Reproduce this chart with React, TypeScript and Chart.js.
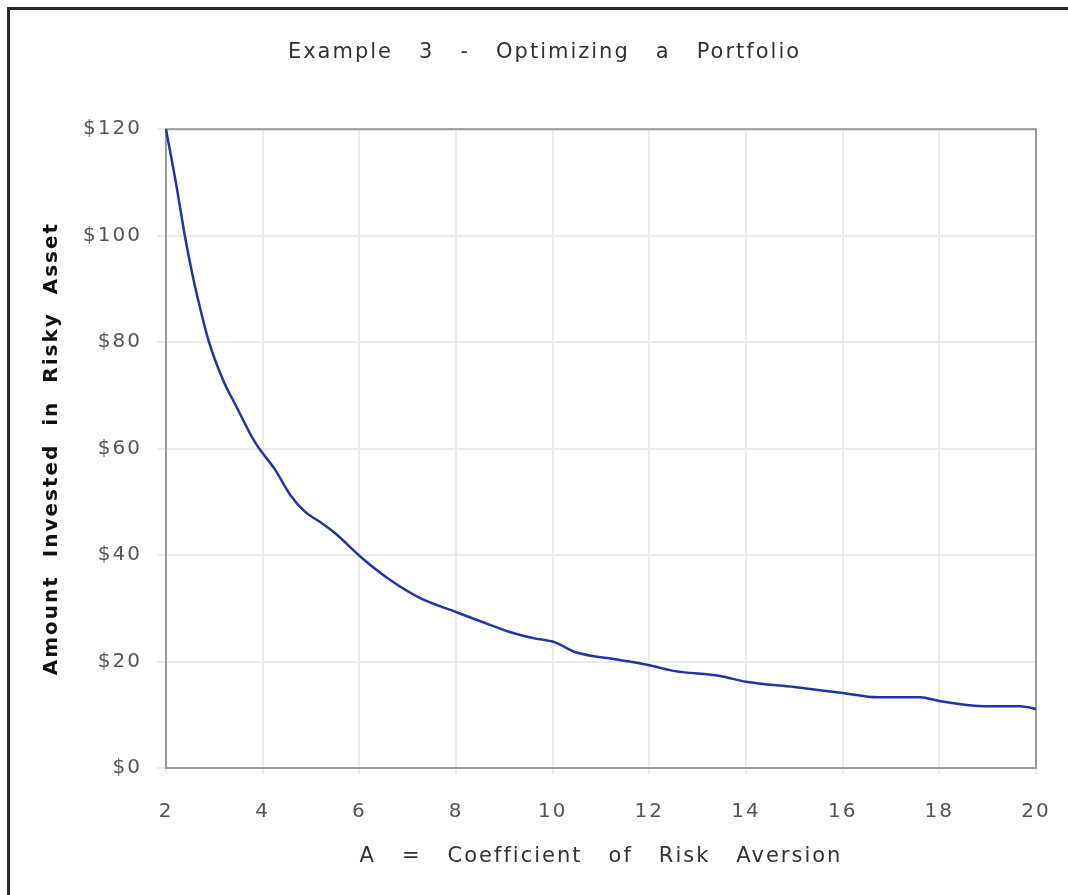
import React, { useEffect, useRef } from "react";
import { Chart, registerables } from "chart.js";

Chart.register(...registerables);

// Coefficient of risk aversion (A) and the dollar amount invested in the risky asset
const riskAversion = [
  2.0, 2.2, 2.39, 2.54, 2.7, 2.89, 3.18, 3.45, 3.84, 4.26, 4.57, 4.88, 5.19, 5.5,
  6.06, 6.64, 7.26, 8.0, 8.7, 9.2, 9.6, 10.05, 10.46, 11.39, 12.0, 12.53, 13.46, 14.0, 15.0,
  16.0, 16.73, 17.6, 18.0, 18.95, 19.67, 20.0,
];
const amountInvested = [
  120, 110.2, 100, 93, 86.6, 80, 72.9, 68, 61.2, 56, 51.3, 48.1, 46.2, 44.1,
  39.4, 35.3, 31.9, 29.3, 26.9, 25.3, 24.4, 23.6, 21.8, 20.3, 19.3, 18.2, 17.3, 16.2, 15.2,
  14.1, 13.3, 13.3, 12.6, 11.6, 11.6, 11.1,
];

const xTickValues = [2, 4, 6, 8, 10, 12, 14, 16, 18, 20];
const yTickValues = [0, 20, 40, 60, 80, 100, 120];

const chartTitle = "Example   3   -   Optimizing   a   Portfolio";
const xAxisTitle = "A   =   Coefficient   of   Risk   Aversion";
const yAxisTitle = "Amount  Invested  in  Risky  Asset";

const FONT = "'DejaVu Sans', Verdana, sans-serif";

export default function App() {
  const canvasRef = useRef<HTMLCanvasElement>(null);

  useEffect(() => {
    const canvas = canvasRef.current;
    if (!canvas) return;

    const spacingPlugin = {
      id: "spacing",
      beforeLayout(chart: any) {
        chart.ctx.letterSpacing = "2px";
      },
      afterLayout(chart: any) {
        if (chart.titleBlock) chart.titleBlock.left = 53;
      },
      beforeDraw(chart: any) {
        chart.ctx.letterSpacing = "2px";
      },
    };

    const framePlugin = {
      id: "plotFrame",
      beforeDatasetsDraw(chart: any) {
        const { ctx, chartArea } = chart;
        ctx.save();
        ctx.strokeStyle = "#999999";
        ctx.lineWidth = 2;
        ctx.strokeRect(
          chartArea.left,
          chartArea.top,
          chartArea.right - chartArea.left,
          chartArea.bottom - chartArea.top
        );
        ctx.restore();
      },
    };

    const chart = new Chart(canvas, {
      type: "line",
      data: {
        datasets: [
          {
            data: riskAversion.map((a, i) => ({ x: a, y: amountInvested[i] })),
            borderColor: "#2233a6",
            borderWidth: 2.5,
            pointRadius: 0,
            cubicInterpolationMode: "monotone",
            fill: false,
            clip: 4,
          },
        ],
      },
      options: {
        responsive: false,
        animation: false,
        layout: { padding: { left: 0, right: 32, top: 0, bottom: 0 } },
        plugins: {
          legend: { display: false },
          tooltip: { enabled: false },
          title: {
            display: true,
            text: chartTitle,
            color: "#333333",
            font: { family: FONT, size: 21, weight: "normal", lineHeight: 1.2 },
            padding: { top: 40, bottom: 64 },
          },
        },
        scales: {
          x: {
            type: "linear",
            min: 2,
            max: 20,
            afterBuildTicks(scale: any) {
              scale.ticks = xTickValues.map((v) => ({ value: v }));
            },
            afterFit(scale: any) {
              scale.height = 127;
              scale.paddingRight = 0;
              scale.paddingLeft = 0;
            },
            ticks: {
              color: "#555555",
              font: { family: FONT, size: 20, lineHeight: 1.2 },
              padding: 26,
              maxRotation: 0,
            },
            grid: { color: "#ebebeb", lineWidth: 2, tickLength: 6, drawTicks: true },
            border: { display: false },
            title: {
              display: true,
              text: xAxisTitle,
              color: "#333333",
              font: { family: FONT, size: 21, lineHeight: 1.2 },
              padding: { top: 0, bottom: 26 },
            },
          },
          y: {
            type: "linear",
            min: 0,
            max: 120,
            afterBuildTicks(scale: any) {
              scale.ticks = yTickValues.map((v) => ({ value: v }));
            },
            afterFit(scale: any) {
              scale.width = 166;
            },
            ticks: {
              color: "#555555",
              font: { family: FONT, size: 20, lineHeight: 1.2 },
              padding: 15,
              callback: (v: any) => "$" + v,
            },
            grid: { color: "#ebebeb", lineWidth: 2, tickLength: 9, drawTicks: true },
            border: { display: false },
            title: {
              display: true,
              text: yAxisTitle,
              color: "#111111",
              font: { family: FONT, size: 20, weight: "bold", lineHeight: 1.2 },
              padding: { top: 40, bottom: 0 },
            },
          },
        },
      },
      plugins: [spacingPlugin, framePlugin],
    });

    return () => chart.destroy();
  }, []);

  return (
    <div style={{ position: "absolute", left: 0, top: 0, width: 1068, height: 895, overflow: "hidden", background: "#fff" }}>
      <div
        style={{
          position: "absolute",
          left: 7,
          top: 7,
          width: 1100,
          height: 930,
          borderLeft: "3px solid #2a2a2a",
          borderTop: "3px solid #2a2a2a",
        }}
      />
      <canvas
        ref={canvasRef}
        width={1068}
        height={895}
        style={{ position: "absolute", left: 0, top: 0, width: 1068, height: 895 }}
      />
    </div>
  );
}
